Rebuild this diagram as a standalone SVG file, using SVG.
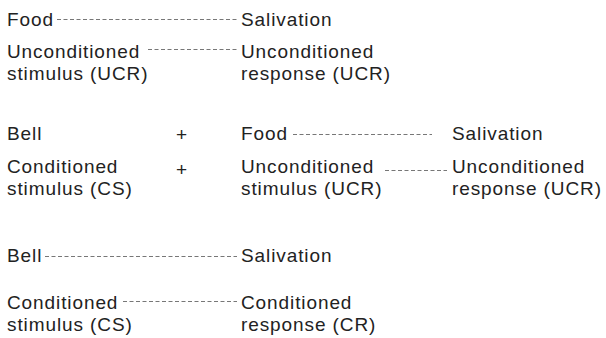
<svg xmlns="http://www.w3.org/2000/svg" width="606" height="338" viewBox="0 0 606 338">
<style>
text{font-family:"Liberation Sans",Arial,Helvetica,sans-serif;font-size:19px;letter-spacing:0.9px;fill:#222}
.d{stroke:#777;stroke-width:1;stroke-dasharray:4 2.5;fill:none}
</style>
<rect width="606" height="338" fill="#fff"/>
<g id="connectors">
<line class="d" x1="57" y1="19.5" x2="237" y2="19.5"/>
<line class="d" x1="148" y1="49.5" x2="237" y2="49.5"/>
<line class="d" x1="293" y1="134.5" x2="432" y2="134.5"/>
<line class="d" x1="385" y1="170.5" x2="447" y2="170.5"/>
<line class="d" x1="45" y1="256.5" x2="237" y2="256.5"/>
<line class="d" x1="123" y1="301.5" x2="237" y2="301.5"/>
</g>
<g id="food1"><text x="7" y="26">Food</text></g>
<g id="salivation1"><text x="241" y="26">Salivation</text></g>
<g id="ucs1"><text x="7" y="58">Unconditioned</text><text x="7" y="80">stimulus (UCR)</text></g>
<g id="ucr1"><text x="241" y="58">Unconditioned</text><text x="241" y="80">response (UCR)</text></g>
<g id="bell2"><text x="7" y="140">Bell</text></g>
<g id="plus1"><text x="176" y="141">+</text></g>
<g id="food2"><text x="241" y="140">Food</text></g>
<g id="salivation2"><text x="452" y="140">Salivation</text></g>
<g id="cs2"><text x="7" y="173">Conditioned</text><text x="7" y="195">stimulus (CS)</text></g>
<g id="plus2"><text x="176" y="176">+</text></g>
<g id="ucs2"><text x="241" y="173">Unconditioned</text><text x="241" y="195">stimulus (UCR)</text></g>
<g id="ucr2"><text x="452" y="173">Unconditioned</text><text x="452" y="195">response (UCR)</text></g>
<g id="bell3"><text x="7" y="262">Bell</text></g>
<g id="salivation3"><text x="241" y="262">Salivation</text></g>
<g id="cs3"><text x="7" y="309">Conditioned</text><text x="7" y="331">stimulus (CS)</text></g>
<g id="cr3"><text x="241" y="309">Conditioned</text><text x="241" y="331">response (CR)</text></g>
</svg>
